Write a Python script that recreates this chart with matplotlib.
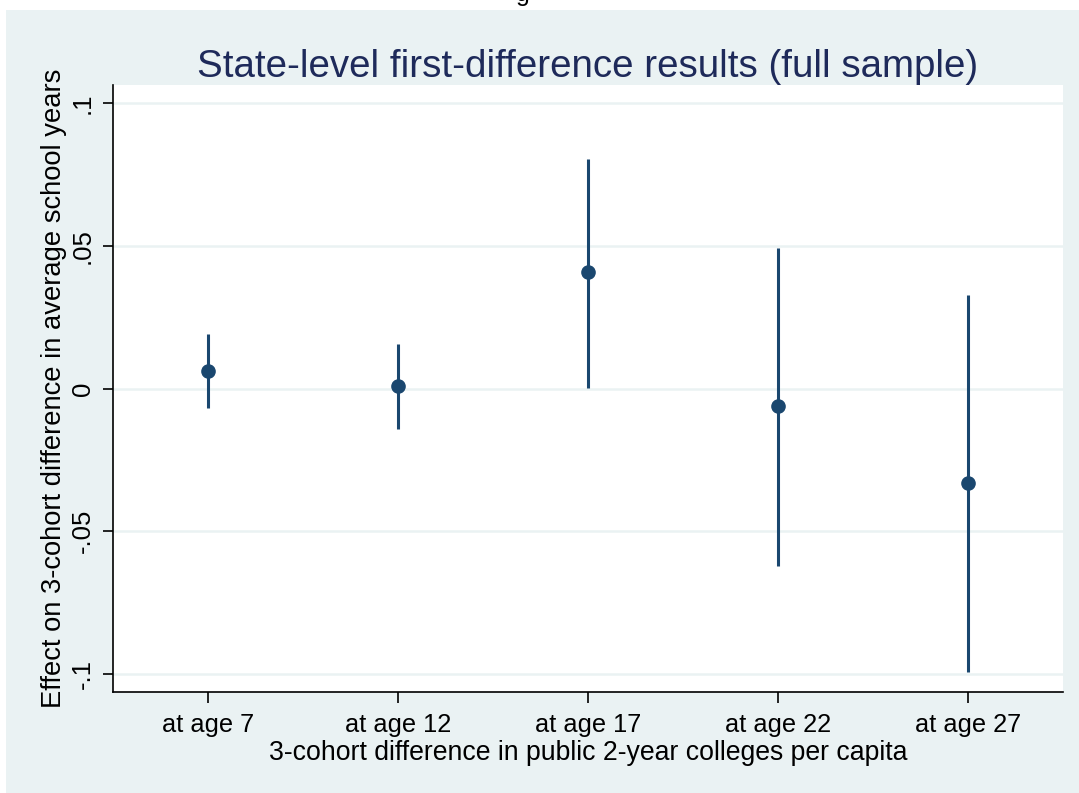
import numpy as np
import matplotlib
matplotlib.use("Agg")
import matplotlib.pyplot as plt
from matplotlib.patches import Rectangle

# Data
categories = ["at age 7", "at age 12", "at age 17", "at age 22", "at age 27"]
estimates = [0.0063, 0.0010, 0.0408, -0.0062, -0.0330]
ci_low = [-0.0070, -0.0143, 0.0003, -0.0622, -0.0993]
ci_high = [0.0192, 0.0157, 0.0805, 0.0493, 0.0328]
yticks = [-0.1, -0.05, 0.0, 0.05, 0.1]
ytick_labels = ["-.1", "-.05", "0", ".05", ".1"]

navy = "#1a476f"
bg = "#eaf2f3"

plt.rcParams["font.family"] = ["Liberation Sans", "DejaVu Sans"]

W, H = 1079, 793
fig = plt.figure(figsize=(W / 100, H / 100), dpi=100)
fig.patch.set_facecolor("white")
fig.patches.append(Rectangle((6 / W, 0), 1 - 6 / W, (H - 10) / H,
                             transform=fig.transFigure, facecolor=bg,
                             edgecolor="none", zorder=-10))
# cut-off caption letter peeking in at the top edge
fig.text(523 / W, 1 - 1 / H, "g", ha="center", va="baseline", fontsize=18,
         color="black")

ax = fig.add_axes([113 / W, (H - 692) / H, (1063 - 113) / W, (692 - 85) / H])
ax.set_zorder(1)
ax.set_facecolor("white")

x = np.arange(1, len(categories) + 1)
ax.vlines(x, ci_low, ci_high, color=navy, linewidth=2.2, zorder=3)
ax.plot(x, estimates, "o", color=navy, markersize=9.5, zorder=4)

ax.set_xlim(0.5, 5.5)
ax.set_ylim(-0.1063, 0.1063)
ax.set_xticks(x)
ax.set_xticklabels(categories, fontsize=18.3)
ax.set_yticks(yticks)
ax.set_yticklabels(ytick_labels, fontsize=18.5, rotation=90, va="center")
ax.yaxis.grid(True, color=bg, linewidth=1.8)
ax.set_axisbelow(True)

for s in ["top", "right"]:
    ax.spines[s].set_visible(False)
for s in ["left", "bottom"]:
    ax.spines[s].set_linewidth(1.2)
    ax.spines[s].set_color("black")

ax.tick_params(axis="x", length=8, width=1.2, pad=7)
ax.tick_params(axis="y", length=7, width=1.2, pad=6)

ax.set_xlabel("3-cohort difference in public 2-year colleges per capita",
              fontsize=19.2, labelpad=2)
ax.set_ylabel("Effect on 3-cohort difference in average school years",
              fontsize=19.7, labelpad=3)
ax.set_title("State-level first-difference results (full sample)",
             fontsize=27.7, color="#1e2a5a", pad=6)

fig.savefig("out.png", dpi=100, facecolor=fig.get_facecolor())
